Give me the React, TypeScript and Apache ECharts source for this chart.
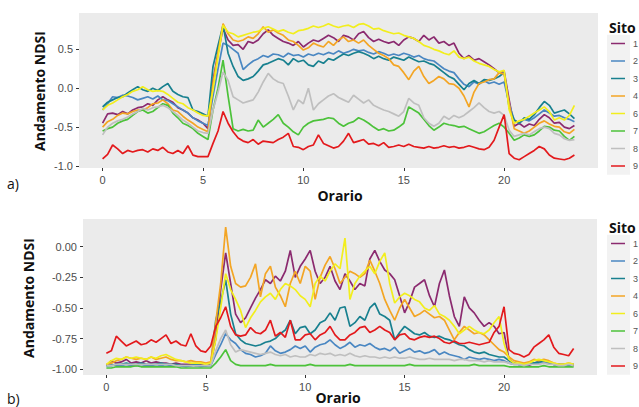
import React, { useEffect, useRef } from "react";
import * as echarts from "echarts";

const times = [0,0.25,0.5,0.75,1,1.25,1.5,1.75,2,2.25,2.5,2.75,3,3.25,3.5,3.75,4,4.25,4.5,4.75,5,5.25,5.5,5.75,6,6.25,6.5,6.75,7,7.25,7.5,7.75,8,8.25,8.5,8.75,9,9.25,9.5,9.75,10,10.25,10.5,10.75,11,11.25,11.5,11.75,12,12.25,12.5,12.75,13,13.25,13.5,13.75,14,14.25,14.5,14.75,15,15.25,15.5,15.75,16,16.25,16.5,16.75,17,17.25,17.5,17.75,18,18.25,18.5,18.75,19,19.25,19.5,19.75,20,20.25,20.5,20.75,21,21.25,21.5,21.75,22,22.25,22.5,22.75,23,23.25,23.5];

const sites = ["1", "2", "3", "4", "6", "7", "8", "9"];
const siteColors = ["#8B2A6F", "#4A87C2", "#18808F", "#F3A524", "#F2EE1D", "#4CC23A", "#BFBFBF", "#E3191C"];
const xTicks = [0, 5, 10, 15, 20];
const yTicksA = [-1, -0.5, 0, 0.5];
const yTicksB = [-1, -0.75, -0.5, -0.25, 0];

// Panel a)
const a1 = [-0.45,-0.33,-0.32,-0.34,-0.3,-0.33,-0.28,-0.25,-0.24,-0.2,-0.22,-0.15,-0.11,-0.15,-0.18,-0.25,-0.28,-0.32,-0.38,-0.41,-0.45,-0.52,0.1,0.45,0.77,0.62,0.55,0.56,0.5,0.6,0.58,0.62,0.7,0.75,0.68,0.64,0.6,0.58,0.55,0.6,0.53,0.58,0.62,0.6,0.64,0.68,0.65,0.6,0.68,0.66,0.62,0.7,0.73,0.65,0.6,0.63,0.6,0.58,0.6,0.55,0.62,0.66,0.64,0.6,0.68,0.62,0.66,0.58,0.6,0.55,0.58,0.45,0.38,0.42,0.36,0.38,0.34,0.3,0.25,0.2,0.22,-0.15,-0.49,-0.45,-0.5,-0.46,-0.48,-0.4,-0.34,-0.38,-0.45,-0.44,-0.5,-0.52,-0.48];
const a2 = [-0.28,-0.2,-0.11,-0.12,-0.09,-0.1,-0.12,-0.15,-0.13,-0.11,-0.14,-0.1,-0.15,-0.16,-0.2,-0.24,-0.28,-0.32,-0.38,-0.42,-0.45,-0.48,-0.1,0.25,0.58,0.55,0.5,0.45,0.24,0.3,0.35,0.38,0.42,0.4,0.44,0.43,0.4,0.45,0.42,0.43,0.4,0.44,0.42,0.45,0.43,0.46,0.44,0.48,0.45,0.47,0.5,0.48,0.49,0.46,0.44,0.47,0.45,0.42,0.44,0.42,0.45,0.43,0.4,0.42,0.38,0.36,0.35,0.3,0.25,0.22,0.2,0.12,0.05,0.02,0.08,0.05,0.1,0.06,0.08,0.05,0.08,-0.2,-0.41,-0.45,-0.4,-0.42,-0.38,-0.33,-0.28,-0.32,-0.36,-0.35,-0.38,-0.4,-0.43];
const a3 = [-0.24,-0.18,-0.15,-0.12,-0.11,-0.06,-0.02,0.02,-0.02,-0.04,0,-0.03,0.02,0.06,-0.04,-0.08,-0.11,-0.12,-0.28,-0.3,-0.33,-0.36,0.28,0.55,0.81,0.45,0.28,0.15,0.1,0.12,0.15,0.22,0.3,0.32,0.35,0.38,0.36,0.3,0.38,0.34,0.36,0.3,0.28,0.35,0.32,0.38,0.36,0.4,0.44,0.42,0.45,0.47,0.45,0.42,0.38,0.41,0.38,0.36,0.4,0.38,0.36,0.4,0.37,0.34,0.35,0.32,0.3,0.25,0.2,0.15,0.12,0.05,-0.02,0.06,0.1,0.06,0.11,0.1,0.12,0.15,0.2,-0.25,-0.41,-0.45,-0.38,-0.4,-0.34,-0.25,-0.17,-0.22,-0.32,-0.3,-0.28,-0.33,-0.39];
const a4 = [-0.5,-0.43,-0.4,-0.35,-0.32,-0.33,-0.3,-0.28,-0.28,-0.25,-0.2,-0.19,-0.15,-0.2,-0.28,-0.3,-0.36,-0.41,-0.45,-0.5,-0.53,-0.56,0.06,0.45,0.83,0.7,0.62,0.6,0.62,0.66,0.64,0.7,0.79,0.72,0.75,0.71,0.68,0.62,0.6,0.55,0.49,0.52,0.58,0.55,0.53,0.6,0.55,0.62,0.66,0.6,0.62,0.58,0.62,0.55,0.5,0.45,0.42,0.38,0.3,0.28,0.2,0.11,0.22,0.28,0.15,0.06,0.1,0.15,0.12,0.06,0.05,0,-0.1,-0.24,-0.05,0.06,0.08,0.11,0.12,0.2,0.18,-0.2,-0.52,-0.55,-0.58,-0.55,-0.5,-0.45,-0.42,-0.46,-0.49,-0.5,-0.56,-0.58,-0.53];
const a6 = [-0.28,-0.22,-0.19,-0.15,-0.11,-0.08,-0.04,-0.02,0.02,-0.02,-0.04,-0.03,-0.04,-0.08,-0.13,-0.18,-0.2,-0.25,-0.28,-0.32,-0.35,-0.36,-0.02,0.4,0.81,0.72,0.7,0.66,0.68,0.7,0.72,0.73,0.77,0.79,0.76,0.73,0.75,0.72,0.7,0.74,0.75,0.77,0.8,0.78,0.8,0.83,0.8,0.78,0.8,0.81,0.78,0.82,0.83,0.8,0.76,0.77,0.74,0.72,0.7,0.71,0.68,0.66,0.64,0.6,0.55,0.53,0.5,0.48,0.45,0.43,0.48,0.4,0.38,0.4,0.35,0.32,0.3,0.28,0.24,0.21,0.23,-0.28,-0.45,-0.42,-0.4,-0.36,-0.32,-0.28,-0.24,-0.3,-0.41,-0.38,-0.41,-0.35,-0.22];
const a7 = [-0.55,-0.52,-0.5,-0.45,-0.42,-0.4,-0.35,-0.3,-0.28,-0.32,-0.3,-0.25,-0.2,-0.22,-0.32,-0.38,-0.45,-0.48,-0.52,-0.58,-0.62,-0.66,-0.28,0,0.36,-0.1,-0.52,-0.55,-0.53,-0.55,-0.54,-0.41,-0.5,-0.45,-0.4,-0.34,-0.45,-0.5,-0.56,-0.6,-0.5,-0.45,-0.42,-0.41,-0.4,-0.38,-0.39,-0.45,-0.49,-0.45,-0.43,-0.38,-0.41,-0.45,-0.5,-0.54,-0.52,-0.55,-0.54,-0.5,-0.45,-0.24,-0.28,-0.32,-0.4,-0.48,-0.54,-0.5,-0.45,-0.47,-0.48,-0.5,-0.49,-0.52,-0.55,-0.58,-0.56,-0.52,-0.48,-0.45,-0.5,-0.58,-0.67,-0.64,-0.6,-0.62,-0.6,-0.55,-0.49,-0.5,-0.54,-0.55,-0.62,-0.67,-0.62];
const a8 = [-0.6,-0.5,-0.45,-0.42,-0.4,-0.37,-0.33,-0.3,-0.26,-0.28,-0.25,-0.24,-0.22,-0.25,-0.3,-0.35,-0.41,-0.45,-0.5,-0.55,-0.57,-0.58,-0.28,-0.05,0.21,0.1,-0.11,-0.15,-0.19,-0.17,-0.15,-0.05,0.08,0.19,0.12,0.08,0.06,-0.1,-0.28,-0.15,-0.2,0,-0.28,-0.2,-0.15,-0.1,-0.07,-0.12,-0.15,-0.18,-0.09,-0.14,-0.19,-0.15,-0.22,-0.25,-0.28,-0.3,-0.33,-0.36,-0.3,-0.13,-0.19,-0.22,-0.38,-0.45,-0.49,-0.45,-0.36,-0.4,-0.35,-0.38,-0.35,-0.3,-0.25,-0.19,-0.25,-0.3,-0.32,-0.3,-0.35,-0.54,-0.62,-0.6,-0.58,-0.6,-0.56,-0.52,-0.5,-0.52,-0.58,-0.6,-0.65,-0.67,-0.66];
const a9 = [-0.91,-0.85,-0.73,-0.78,-0.84,-0.8,-0.82,-0.8,-0.79,-0.82,-0.78,-0.8,-0.76,-0.82,-0.84,-0.8,-0.84,-0.74,-0.86,-0.88,-0.88,-0.88,-0.71,-0.55,-0.3,-0.45,-0.56,-0.64,-0.68,-0.7,-0.66,-0.72,-0.68,-0.69,-0.7,-0.66,-0.63,-0.58,-0.75,-0.76,-0.79,-0.75,-0.73,-0.6,-0.71,-0.74,-0.77,-0.75,-0.68,-0.58,-0.7,-0.68,-0.66,-0.72,-0.71,-0.74,-0.7,-0.76,-0.75,-0.73,-0.75,-0.72,-0.75,-0.76,-0.77,-0.75,-0.77,-0.76,-0.74,-0.76,-0.75,-0.77,-0.76,-0.74,-0.76,-0.78,-0.79,-0.76,-0.67,-0.5,-0.34,-0.84,-0.9,-0.92,-0.88,-0.84,-0.8,-0.75,-0.78,-0.86,-0.9,-0.91,-0.92,-0.9,-0.86];

// Panel b)
const b1 = [-0.97,-0.93,-0.95,-0.94,-0.92,-0.95,-0.94,-0.95,-0.93,-0.95,-0.94,-0.95,-0.95,-0.96,-0.95,-0.96,-0.96,-0.96,-0.97,-0.96,-0.97,-0.96,-0.75,-0.35,-0.05,-0.3,-0.55,-0.62,-0.58,-0.5,-0.42,-0.35,-0.27,-0.3,-0.24,-0.28,-0.2,-0.03,-0.25,-0.16,-0.1,-0.03,-0.2,-0.3,-0.25,-0.16,-0.28,-0.35,-0.22,-0.28,-0.35,-0.3,-0.32,-0.1,-0.03,-0.12,-0.19,-0.22,-0.27,-0.4,-0.54,-0.45,-0.33,-0.3,-0.27,-0.4,-0.49,-0.3,-0.19,-0.4,-0.57,-0.65,-0.41,-0.5,-0.54,-0.6,-0.65,-0.62,-0.65,-0.71,-0.7,-0.92,-0.95,-0.96,-0.96,-0.97,-0.95,-0.94,-0.93,-0.95,-0.96,-0.97,-0.97,-0.96,-0.97];
const b2 = [-0.97,-0.96,-0.97,-0.97,-0.96,-0.97,-0.97,-0.96,-0.97,-0.97,-0.96,-0.97,-0.96,-0.97,-0.97,-0.97,-0.98,-0.97,-0.97,-0.98,-0.97,-0.97,-0.88,-0.8,-0.71,-0.76,-0.79,-0.84,-0.87,-0.88,-0.9,-0.89,-0.87,-0.81,-0.85,-0.87,-0.86,-0.84,-0.81,-0.83,-0.81,-0.86,-0.82,-0.8,-0.79,-0.76,-0.8,-0.83,-0.81,-0.78,-0.82,-0.8,-0.81,-0.79,-0.82,-0.84,-0.83,-0.85,-0.82,-0.87,-0.85,-0.83,-0.86,-0.85,-0.87,-0.86,-0.84,-0.88,-0.86,-0.88,-0.89,-0.9,-0.92,-0.9,-0.91,-0.92,-0.91,-0.92,-0.93,-0.92,-0.93,-0.95,-0.96,-0.96,-0.97,-0.96,-0.95,-0.95,-0.94,-0.95,-0.96,-0.96,-0.97,-0.96,-0.96];
const b3 = [-0.97,-0.97,-0.96,-0.96,-0.95,-0.96,-0.96,-0.95,-0.96,-0.96,-0.96,-0.95,-0.96,-0.96,-0.96,-0.97,-0.97,-0.97,-0.96,-0.97,-0.97,-0.97,-0.6,-0.45,-0.27,-0.55,-0.71,-0.76,-0.79,-0.8,-0.81,-0.8,-0.78,-0.77,-0.75,-0.71,-0.68,-0.6,-0.71,-0.66,-0.65,-0.71,-0.68,-0.62,-0.6,-0.54,-0.6,-0.5,-0.49,-0.65,-0.62,-0.57,-0.6,-0.5,-0.46,-0.55,-0.57,-0.6,-0.76,-0.7,-0.65,-0.68,-0.71,-0.72,-0.7,-0.73,-0.74,-0.73,-0.75,-0.76,-0.78,-0.8,-0.81,-0.84,-0.86,-0.87,-0.86,-0.88,-0.89,-0.9,-0.9,-0.93,-0.95,-0.96,-0.96,-0.95,-0.95,-0.94,-0.93,-0.94,-0.96,-0.96,-0.96,-0.97,-0.96];
const b4 = [-0.96,-0.95,-0.93,-0.92,-0.9,-0.91,-0.92,-0.91,-0.92,-0.9,-0.92,-0.91,-0.9,-0.92,-0.93,-0.93,-0.94,-0.93,-0.94,-0.94,-0.95,-0.94,-0.62,-0.3,0.16,-0.16,-0.3,-0.33,-0.32,-0.25,-0.14,-0.41,-0.22,-0.16,-0.33,-0.4,-0.49,-0.3,-0.2,-0.3,-0.16,-0.2,-0.43,-0.25,-0.15,-0.08,-0.18,-0.3,-0.25,-0.2,-0.22,-0.25,-0.22,-0.11,-0.2,-0.3,-0.43,-0.52,-0.6,-0.5,-0.43,-0.5,-0.57,-0.55,-0.52,-0.55,-0.58,-0.57,-0.6,-0.68,-0.76,-0.7,-0.65,-0.68,-0.71,-0.7,-0.72,-0.76,-0.8,-0.84,-0.86,-0.9,-0.93,-0.94,-0.95,-0.94,-0.92,-0.93,-0.92,-0.93,-0.95,-0.96,-0.96,-0.95,-0.96];
const b6 = [-0.96,-0.93,-0.91,-0.92,-0.9,-0.91,-0.9,-0.91,-0.92,-0.9,-0.91,-0.89,-0.88,-0.9,-0.92,-0.93,-0.94,-0.95,-0.95,-0.95,-0.96,-0.95,-0.76,-0.5,-0.22,-0.35,-0.43,-0.52,-0.66,-0.58,-0.52,-0.45,-0.41,-0.38,-0.43,-0.35,-0.3,-0.32,-0.35,-0.4,-0.43,-0.49,-0.3,-0.24,-0.28,-0.2,-0.14,-0.18,0.07,-0.43,-0.3,-0.24,-0.2,-0.16,-0.22,-0.12,-0.05,-0.3,-0.46,-0.41,-0.38,-0.4,-0.43,-0.45,-0.5,-0.52,-0.48,-0.55,-0.57,-0.6,-0.65,-0.71,-0.68,-0.65,-0.68,-0.7,-0.71,-0.68,-0.62,-0.57,-0.79,-0.92,-0.95,-0.95,-0.96,-0.95,-0.93,-0.92,-0.93,-0.94,-0.95,-0.96,-0.96,-0.95,-0.96];
const b7 = [-0.99,-0.99,-0.98,-0.98,-0.98,-0.98,-0.97,-0.98,-0.98,-0.98,-0.98,-0.98,-0.98,-0.98,-0.98,-0.99,-0.99,-0.99,-0.99,-0.99,-0.99,-0.99,-0.95,-0.9,-0.84,-0.93,-0.96,-0.97,-0.97,-0.97,-0.97,-0.97,-0.97,-0.96,-0.97,-0.97,-0.97,-0.97,-0.97,-0.97,-0.97,-0.96,-0.97,-0.97,-0.97,-0.97,-0.97,-0.97,-0.97,-0.96,-0.97,-0.97,-0.97,-0.97,-0.97,-0.97,-0.97,-0.97,-0.97,-0.97,-0.97,-0.96,-0.97,-0.97,-0.97,-0.97,-0.97,-0.97,-0.97,-0.97,-0.97,-0.97,-0.97,-0.97,-0.96,-0.97,-0.97,-0.97,-0.97,-0.97,-0.97,-0.98,-0.98,-0.98,-0.98,-0.98,-0.98,-0.98,-0.97,-0.98,-0.98,-0.98,-0.98,-0.98,-0.98];
const b8 = [-0.97,-0.97,-0.96,-0.96,-0.96,-0.96,-0.96,-0.96,-0.96,-0.96,-0.96,-0.96,-0.96,-0.96,-0.97,-0.97,-0.97,-0.97,-0.97,-0.97,-0.97,-0.97,-0.85,-0.75,-0.68,-0.8,-0.86,-0.84,-0.85,-0.86,-0.87,-0.88,-0.87,-0.86,-0.88,-0.89,-0.88,-0.9,-0.89,-0.9,-0.9,-0.88,-0.89,-0.87,-0.88,-0.87,-0.89,-0.88,-0.89,-0.87,-0.89,-0.9,-0.89,-0.9,-0.9,-0.91,-0.9,-0.91,-0.9,-0.91,-0.91,-0.9,-0.91,-0.92,-0.92,-0.91,-0.92,-0.92,-0.92,-0.92,-0.93,-0.92,-0.92,-0.93,-0.93,-0.93,-0.94,-0.93,-0.94,-0.94,-0.94,-0.95,-0.96,-0.96,-0.97,-0.96,-0.96,-0.96,-0.95,-0.96,-0.96,-0.97,-0.97,-0.96,-0.97];
const b9 = [-0.87,-0.85,-0.73,-0.77,-0.81,-0.79,-0.77,-0.8,-0.79,-0.76,-0.78,-0.75,-0.72,-0.79,-0.77,-0.8,-0.81,-0.71,-0.81,-0.85,-0.86,-0.81,-0.65,-0.58,-0.49,-0.65,-0.72,-0.73,-0.72,-0.66,-0.7,-0.71,-0.68,-0.6,-0.73,-0.7,-0.74,-0.6,-0.76,-0.76,-0.72,-0.71,-0.76,-0.72,-0.7,-0.65,-0.72,-0.76,-0.76,-0.72,-0.7,-0.66,-0.65,-0.7,-0.68,-0.65,-0.68,-0.7,-0.76,-0.72,-0.71,-0.75,-0.76,-0.74,-0.73,-0.74,-0.73,-0.75,-0.78,-0.79,-0.77,-0.79,-0.79,-0.78,-0.79,-0.8,-0.79,-0.78,-0.7,-0.65,-0.49,-0.84,-0.87,-0.88,-0.9,-0.88,-0.82,-0.79,-0.76,-0.72,-0.82,-0.87,-0.88,-0.89,-0.83];

const panelA = [a1, a2, a3, a4, a6, a7, a8, a9];
const panelB = [b1, b2, b3, b4, b6, b7, b8, b9];

const TICK_FONT = "'Liberation Sans', Arial, sans-serif";
const TITLE_FONT = "'Open Sans', 'Noto Sans', sans-serif";

function legendGraphics(top: number) {
  const els: any[] = [];
  els.push({ type: "text", x: 609, y: top, style: { text: "Sito", font: `bold 14px ${TITLE_FONT}`, fill: "#111", verticalAlign: "middle" } });
  const y0 = top + 16.5;
  const step = 17.5;
  els.push({ type: "rect", shape: { x: 607, y: y0 - step / 2, width: 23, height: step * sites.length }, style: { fill: "#F2F2F2" } });
  sites.forEach((s, i) => {
    const y = y0 + i * step;
    els.push({ type: "line", shape: { x1: 611, y1: y, x2: 625, y2: y }, style: { stroke: siteColors[i], lineWidth: 1.5 } });
    els.push({ type: "text", x: 633, y, style: { text: s, font: `9px ${TICK_FONT}`, fill: "#555", verticalAlign: "middle" } });
  });
  return els;
}

export default function App() {
  const ref = useRef<HTMLDivElement>(null);
  useEffect(() => {
    if (!ref.current) return;
    const chart = echarts.init(ref.current, undefined, { renderer: "svg" });
    const mkX = (idx: number) => ({
      type: "value", gridIndex: idx, min: -1.175, max: 24.675, position: "bottom",
      axisLine: { show: false, onZero: false }, splitLine: { show: false },
      axisTick: { show: true, length: 3, lineStyle: { color: "#333" }, customValues: xTicks },
      axisLabel: { color: "#4D4D4D", fontSize: 11, fontFamily: TICK_FONT, margin: 6, customValues: xTicks },
    });
    const mkY = (idx: number, min: number, max: number, ticks: number[], dec: number) => ({
      type: "value", gridIndex: idx, min, max, position: "left",
      axisLine: { show: false, onZero: false }, splitLine: { show: false },
      axisTick: { show: true, length: 3, lineStyle: { color: "#333" }, customValues: ticks },
      axisLabel: { color: "#4D4D4D", fontSize: 11, fontFamily: TICK_FONT, margin: 6, customValues: ticks, formatter: (v: number) => v.toFixed(dec) },
    });
    const series: any[] = [];
    [panelA, panelB].forEach((panel, p) => {
      panel.forEach((vals, i) => {
        series.push({
          type: "line", name: sites[i], xAxisIndex: p, yAxisIndex: p,
          data: times.map((t, k) => [t, vals[k]]),
          showSymbol: false, symbol: "none",
          lineStyle: { color: siteColors[i], width: 1.7 },
          itemStyle: { color: siteColors[i] },
        });
      });
    });
    chart.setOption({
      animation: false,
      backgroundColor: "#fff",
      grid: [
        { left: 79, top: 13, width: 519, height: 155, show: true, backgroundColor: "#EBEBEB", borderWidth: 0 },
        { left: 83, top: 219, width: 514, height: 156, show: true, backgroundColor: "#EBEBEB", borderWidth: 0 },
      ],
      xAxis: [mkX(0), mkX(1)],
      yAxis: [mkY(0, -1.026, 0.967, yTicksA, 1), mkY(1, -1.047, 0.226, yTicksB, 2)],
      series,
      graphic: [
        { type: "text", x: 39, y: 91, rotation: Math.PI / 2, style: { text: "Andamento NDSI", font: `bold 14px ${TITLE_FONT}`, fill: "#111", align: "center", verticalAlign: "middle" } },
        { type: "text", x: 28, y: 298, rotation: Math.PI / 2, style: { text: "Andamento NDSI", font: `bold 14px ${TITLE_FONT}`, fill: "#111", align: "center", verticalAlign: "middle" } },
        { type: "text", x: 340, y: 195, style: { text: "Orario", font: `bold 14px ${TITLE_FONT}`, fill: "#111", align: "center", verticalAlign: "middle" } },
        { type: "text", x: 338, y: 397, style: { text: "Orario", font: `bold 14px ${TITLE_FONT}`, fill: "#111", align: "center", verticalAlign: "middle" } },
        { type: "text", x: 7, y: 183, style: { text: "a)", font: `14px ${TITLE_FONT}`, fill: "#111", verticalAlign: "middle" } },
        { type: "text", x: 7, y: 398, style: { text: "b)", font: `14px ${TITLE_FONT}`, fill: "#111", verticalAlign: "middle" } },
        ...legendGraphics(27),
        ...legendGraphics(227),
      ],
    });
    return () => chart.dispose();
  }, []);
  return <div ref={ref} style={{ position: "fixed", left: 0, top: 0, width: 639, height: 407 }} />;
}
